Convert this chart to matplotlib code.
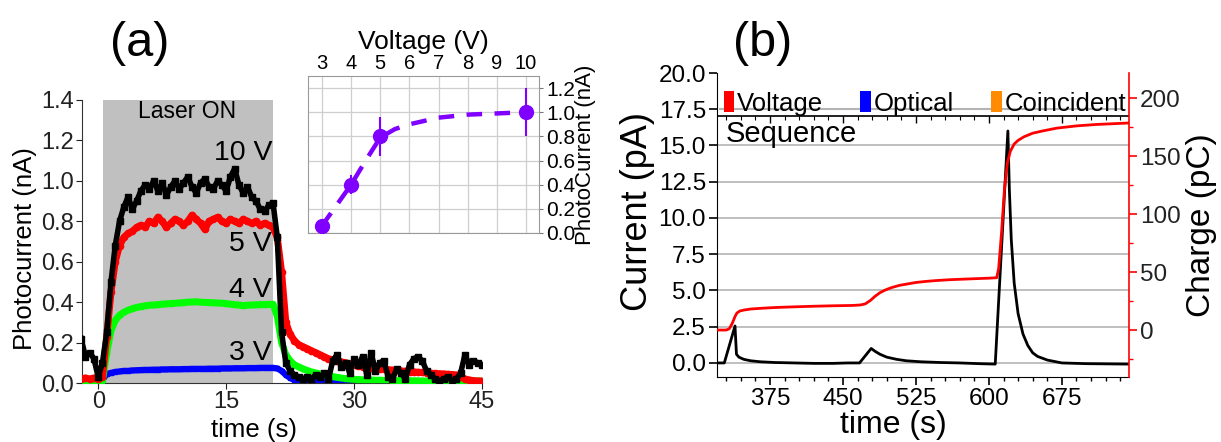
import numpy as np
import matplotlib
matplotlib.use('Agg')
import matplotlib.pyplot as plt
from matplotlib.patches import Patch
from matplotlib.ticker import MultipleLocator, FormatStrFormatter

plt.rcParams['font.family'] = ['Liberation Sans', 'DejaVu Sans']

# ---------------- Panel (a) data ----------------
t_a = np.arange(-2.0, 45.01, 0.5)  # sampling times (s)

pc_3V = [0.01, 0.01, 0.012, 0.01, 0.01, 0.015,
         0.045, 0.05, 0.055, 0.057, 0.06, 0.06, 0.062, 0.063, 0.064, 0.065,
         0.065, 0.066, 0.066, 0.067, 0.067, 0.068, 0.068, 0.068, 0.069, 0.069,
         0.07, 0.07, 0.07, 0.07, 0.071, 0.071, 0.071, 0.072, 0.072, 0.072,
         0.073, 0.073, 0.073, 0.074, 0.074, 0.074, 0.075, 0.075, 0.075, 0.075,
         0.072, 0.06, 0.04, 0.025, 0.015, 0.012, 0.01, 0.01, 0.009, 0.009,
         0.008, 0.01, 0.008, 0.009, 0.01, 0.008, 0.012, 0.009, 0.008, 0.01,
         0.009, 0.008, 0.01, 0.009, 0.008, 0.011, 0.009, 0.008, 0.01, 0.009,
         0.008, 0.01, 0.009, 0.008, 0.01, 0.009, 0.012, 0.008, 0.009, 0.01,
         0.008, 0.009, 0.01, 0.008, 0.009, 0.01, 0.008, 0.009, 0.008]

pc_4V = [0.005, 0.005, 0.005, 0.005, 0.005, 0.01,
         0.15, 0.26, 0.31, 0.335, 0.35, 0.36, 0.368, 0.374, 0.378, 0.382,
         0.385, 0.386, 0.388, 0.39, 0.392, 0.393, 0.395, 0.396, 0.398, 0.4,
         0.401, 0.402, 0.4, 0.399, 0.398, 0.397, 0.396, 0.395, 0.393, 0.39,
         0.388, 0.386, 0.383, 0.385, 0.386, 0.387, 0.388, 0.388, 0.389, 0.39,
         0.33, 0.2, 0.14, 0.11, 0.09, 0.08, 0.07, 0.062, 0.055, 0.05,
         0.045, 0.04, 0.036, 0.032, 0.028, 0.025, 0.022, 0.02, 0.018, 0.017,
         0.016, 0.015, 0.015, 0.014, 0.014, 0.013, 0.013, 0.012, 0.012, 0.012,
         0.011, 0.011, 0.011, 0.011, 0.01, 0.01, 0.01, 0.01, 0.01, 0.01,
         0.01, 0.01, 0.01, 0.01, 0.01, 0.01, 0.01, 0.01, 0.01]

pc_5V = [0.02, 0.025, 0.02, 0.025, 0.02, 0.03,
         0.23, 0.45, 0.6, 0.68, 0.72, 0.74, 0.75, 0.77, 0.78, 0.77,
         0.8, 0.79, 0.82, 0.8, 0.77, 0.79, 0.81, 0.8, 0.78, 0.8,
         0.83, 0.81, 0.79, 0.76, 0.8, 0.81, 0.82, 0.8, 0.79, 0.81,
         0.8, 0.79, 0.81, 0.8, 0.79, 0.8, 0.78, 0.79, 0.78, 0.77,
         0.72, 0.55, 0.3, 0.24, 0.21, 0.19, 0.18, 0.17, 0.16, 0.15,
         0.14, 0.13, 0.12, 0.115, 0.11, 0.105, 0.1, 0.095, 0.09, 0.085,
         0.08, 0.078, 0.075, 0.072, 0.07, 0.068, 0.066, 0.064, 0.062, 0.06,
         0.058, 0.056, 0.055, 0.053, 0.052, 0.05, 0.048, 0.047, 0.046, 0.045,
         0.043, 0.042, 0.04, 0.03, 0.02, 0.015, 0.012, 0.01, 0.01]

pc_10V = [0.22, 0.13, 0.15, 0.12, 0.03, 0.1,
          0.25, 0.5, 0.68, 0.8, 0.87, 0.92, 0.86, 0.9, 0.95, 0.98,
          0.96, 1.0, 0.95, 0.99, 0.93, 0.97, 1.0, 0.96, 0.99, 1.02,
          0.97, 0.94, 0.99, 1.01, 0.97, 0.96, 1.0, 0.98, 0.95, 1.02,
          1.06, 0.98, 0.94, 0.97, 0.92, 0.9, 0.86, 0.85, 0.88, 0.89,
          0.72, 0.25, 0.1, 0.06, 0.04, 0.03, 0.02, 0.03, 0.02, 0.04,
          0.03, 0.05, 0.02, 0.11, 0.14, 0.08, 0.1, 0.05, 0.12, 0.09,
          0.13, 0.04, 0.15, 0.06, 0.1, 0.11, 0.03, 0.02, 0.07, 0.05,
          0.02, 0.09, 0.12, 0.13, 0.11, 0.06, 0.04, 0.02, 0.01, 0.02,
          0.03, 0.01, 0.02, 0.05, 0.14, 0.09, 0.11, 0.1, 0.09]

laser_on = (0.6, 20.5)

# inset data
volt = [3, 4, 5, 10]
pc_mean = [0.06, 0.40, 0.80, 1.00]
pc_err = [0.03, 0.08, 0.16, 0.20]
fit_v = [3, 3.5, 4, 4.5, 5, 5.5, 6, 7, 8, 9, 10]
fit_pc = [0.06, 0.23, 0.40, 0.60, 0.79, 0.86, 0.90, 0.955, 0.98, 0.99, 1.0]

# ---------------- Panel (b) data ----------------
cur_t = [320, 328, 339, 340.5, 343, 348, 355, 365, 380, 400,
         420, 440, 455, 467, 479, 483, 488, 495, 505, 515,
         530, 550, 570, 590, 606.5, 619.5, 621, 623, 626, 630,
         635, 640, 645, 650, 660, 675, 700, 744]
cur_pA = [0.0, 0.0, 2.55, 0.6, 0.4, 0.25, 0.15, 0.08, 0.03, 0.0,
          -0.03, -0.03, 0.0, 0.0, 1.0, 0.8, 0.6, 0.4, 0.25, 0.15,
          0.08, 0.03, 0.0, -0.05, -0.08, 16.0, 12.0, 8.5, 5.5, 3.4,
          2.0, 1.2, 0.7, 0.45, 0.2, 0.0, -0.05, -0.08]

chg_t = [320, 330, 333, 336, 339, 341, 344, 348, 355, 365,
         380, 400, 420, 440, 460, 468, 473, 478, 483, 488,
         494, 500, 508, 516, 525, 535, 545, 560, 575, 590,
         600, 608, 610, 613, 616, 619, 622, 626, 630, 636,
         645, 655, 670, 690, 710, 744]
chg_pC = [0, 0, 1.0, 5.4, 11.6, 14.7, 16.4, 17.2, 18.1, 18.7,
          19.4, 20.0, 20.5, 20.9, 21.2, 21.6, 22.6, 25.4, 29.1, 32.2,
          34.7, 36.6, 38.5, 39.7, 41.0, 41.9, 42.6, 43.4, 43.9, 44.4,
          44.7, 45.1, 52.9, 84.1, 121.6, 144.1, 154.1, 160.4, 163.5, 166.6,
          169.7, 171.6, 174.1, 176.0, 177.2, 178.5]

legend_labels = ['Voltage', 'Optical', 'Coincident']
legend_colors = ['#ff0000', '#0000ff', '#ff8c00']

# ---------------- figure ----------------
W, H = 1221, 442
fig = plt.figure(figsize=(W / 100, H / 100), dpi=100)


def rect(l, t, r, b):
    return [l / W, 1 - b / H, (r - l) / W, (b - t) / H]


# ===== Panel (a) main =====
ax1 = fig.add_axes(rect(82, 100, 482, 383))
ax1.axvspan(*laser_on, color='#c0c0c0', zorder=0, lw=0)
ax1.plot(t_a, pc_3V, color='#0000ff', lw=4.5, marker='s', ms=2.5, zorder=2)
ax1.plot(t_a, pc_4V, color='#00ff00', lw=5, marker='s', ms=2.5, zorder=3)
ax1.plot(t_a, pc_5V, color='#ff0000', lw=5, marker='o', ms=4.5, zorder=4)
ax1.plot(t_a, pc_10V, color='#000000', lw=4, marker='s', ms=5, zorder=5)
ax1.set_xlim(-1.9, 45)
ax1.set_ylim(0, 1.4)
ax1.set_xticks([0, 15, 30, 45])
ax1.yaxis.set_major_locator(MultipleLocator(0.2))
ax1.yaxis.set_major_formatter(FormatStrFormatter('%.1f'))
for s in ['top', 'right']:
    ax1.spines[s].set_visible(False)
for s in ['left', 'bottom']:
    ax1.spines[s].set_color('#333333')
ax1.tick_params(labelsize=17, length=4, pad=2, direction='out', colors='#222222')
ax1.set_xlabel('time (s)', fontsize=18.5)
ax1.xaxis.set_label_coords(0.43, -0.125)
ax1.set_ylabel('Photocurrent (nA)', fontsize=18.5)
ax1.yaxis.set_label_coords(-0.112, 0.475)
ax1.text(10.4, 1.345, 'Laser ON', ha='center', va='center', fontsize=16.5)
for lab, yv in [('10 V', 1.14), ('5 V', 0.69), ('4 V', 0.46), ('3 V', 0.15)]:
    ax1.text(20.4, yv, lab, ha='right', va='center', fontsize=20.5, zorder=6)

fig.text(140 / W, 1 - 43 / H, '(a)', fontsize=35, ha='center', va='center')
fig.text(763 / W, 1 - 43 / H, '(b)', fontsize=35, ha='center', va='center')

# ===== Inset =====
ax2 = fig.add_axes(rect(308, 76, 539, 233))
ax2.set_xlim(2.52, 10.45)
ax2.set_ylim(0, 1.3)
ax2.xaxis.set_major_locator(MultipleLocator(1))
ax2.yaxis.set_major_locator(MultipleLocator(0.2))
ax2.yaxis.set_major_formatter(FormatStrFormatter('%.1f'))
ax2.grid(True, color='#cfcfcf', lw=0.9)
ax2.set_axisbelow(True)
ax2.plot(fit_v, fit_pc, color='#8000ff', lw=3.2, dashes=(3.5, 2.8), zorder=3)
ax2.errorbar(volt, pc_mean, yerr=pc_err, fmt='o', color='#8000ff', ms=10,
             elinewidth=1.5, capsize=0, zorder=4)
for s in ax2.spines.values():
    s.set_color('#9a9a9a')
ax2.tick_params(axis='x', top=True, bottom=False, labeltop=True, labelbottom=False,
                labelsize=14.5, length=0, pad=2)
ax2.tick_params(axis='y', right=True, left=False, labelright=True, labelleft=False,
                labelsize=15, length=3, pad=2, color='#777777')
ax2.xaxis.set_label_position('top')
ax2.set_xlabel('Voltage (V)', fontsize=19)
ax2.xaxis.set_label_coords(0.5, 1.175)
ax2.yaxis.set_label_position('right')
ax2.set_ylabel('PhotoCurrent (nA)', fontsize=16, rotation=90)
ax2.yaxis.set_label_coords(1.155, 0.5)

# ===== Panel (b) =====
ax3 = fig.add_axes(rect(717, 73, 1129, 377))
ax3.set_xlim(320.5, 744)
ax3.set_ylim(-0.97, 20.0)
for yv in [0, 2.5, 5, 7.5, 10, 12.5, 15]:
    ax3.axhline(yv, color='#b4b4b4', lw=1.2, zorder=0)
ax3.axhline(17.5, xmin=0.007, xmax=0.978, color='#b4b4b4', lw=1.5, zorder=0)
ax3.axhline(17.0, color='#111111', lw=1.3, zorder=1)
ax3.plot(cur_t, cur_pA, color='#000000', lw=2, zorder=5)
ax3.xaxis.set_major_locator(MultipleLocator(75))
ax3.xaxis.set_minor_locator(MultipleLocator(15))
ax3.yaxis.set_major_locator(MultipleLocator(2.5))
ax3.yaxis.set_major_formatter(FormatStrFormatter('%.1f'))
ax3.set_xticks([375, 450, 525, 600, 675])
for s in ['top', 'right']:
    ax3.spines[s].set_visible(False)
ax3.tick_params(axis='both', which='major', labelsize=17.5, length=6, width=1.2, pad=2)
ax3.tick_params(axis='x', which='minor', length=3, width=1)
ax3.set_xlabel('time (s)', fontsize=23)
ax3.xaxis.set_label_coords(0.427, -0.11)
ax3.set_ylabel('Current (pA)', fontsize=26)
ax3.yaxis.set_label_coords(-0.15, 0.545)
ax3.text(0.022, 0.80, 'Sequence', transform=ax3.transAxes, fontsize=21,
         ha='left', va='center')
handles = [Patch(facecolor=c, edgecolor='none') for c in legend_colors]
ax3.legend(handles, legend_labels, ncol=3, loc='lower left',
           bbox_to_anchor=(0.016, 0.86), frameon=False, fontsize=18.5,
           handlelength=0.42, handleheight=0.85, handletextpad=0.1,
           columnspacing=1.45, borderpad=0, borderaxespad=0)

# top tick line at 17 pA
ax5 = fig.add_axes(rect(717, 115.5, 1129, 377), facecolor='none')
ax5.set_xlim(320.5, 744)
ax5.xaxis.set_major_locator(MultipleLocator(75))
ax5.xaxis.set_minor_locator(MultipleLocator(15))
for s in ['bottom', 'left', 'right', 'top']:
    ax5.spines[s].set_visible(False)
ax5.tick_params(axis='x', which='both', top=True, bottom=False, labeltop=False,
                labelbottom=False, direction='in')
ax5.tick_params(axis='x', which='major', length=5, width=1)
ax5.tick_params(axis='x', which='minor', length=3, width=0.8)
ax5.set_yticks([])

# right axis: charge
ax4 = ax3.twinx()
ax4.set_ylim(-40.5, 221.6)
ax4.plot(chg_t, chg_pC, color='#ff0000', lw=2, zorder=4)
ax4.yaxis.set_major_locator(MultipleLocator(50))
ax4.yaxis.set_minor_locator(MultipleLocator(25))
for s in ['top', 'left', 'bottom']:
    ax4.spines[s].set_visible(False)
ax4.spines['right'].set_color('#ff0000')
ax4.spines['right'].set_linewidth(1.2)
ax4.tick_params(axis='y', which='major', colors='#ff0000', labelcolor='#222222',
                labelsize=17.5, length=6, width=1.2, pad=2)
ax4.tick_params(axis='y', which='minor', colors='#ff0000', length=3, width=1)
ax4.set_ylabel('Charge (pC)', fontsize=24, rotation=90)
ax4.yaxis.set_label_coords(1.138, 0.5)

fig.savefig('out.png', dpi=100)
